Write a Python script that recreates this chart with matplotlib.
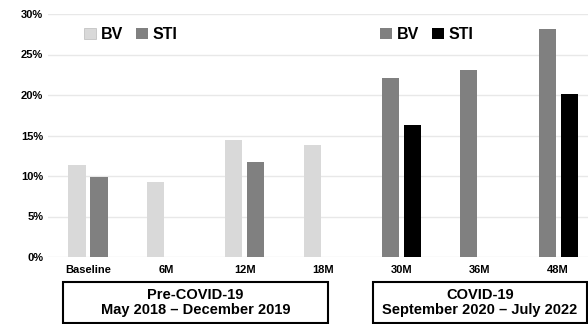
import matplotlib.pyplot as plt
from matplotlib.patches import Rectangle, Patch
import numpy as np

plt.rcParams['font.family'] = ['Liberation Sans', 'DejaVu Sans']
plt.rcParams['font.weight'] = 'bold'

timepoints = ["Baseline", "6M", "12M", "18M", "30M", "36M", "48M"]
bv = [11.3, 9.2, 14.4, 13.8, 22.1, 23.1, 28.1]
sti = [9.9, None, 11.7, None, 16.3, None, 20.1]
covid = [False, False, False, False, True, True, True]

pre_colors = {"BV": "#d9d9d9", "STI": "#808080"}
post_colors = {"BV": "#808080", "STI": "#000000"}

fig = plt.figure(figsize=(5.88, 3.24), dpi=100)
ax = fig.add_axes([48 / 588, 67 / 324, 540 / 588, 243 / 324])

x = np.arange(len(timepoints))
w = 0.22
for i in range(len(timepoints)):
    cols = post_colors if covid[i] else pre_colors
    ax.bar(x[i] - 0.14, bv[i], w, color=cols["BV"], zorder=3)
    if sti[i] is not None:
        ax.bar(x[i] + 0.14, sti[i], w, color=cols["STI"], zorder=3)

ax.set_xlim(-0.51, 6.38)
ax.set_ylim(0, 30)
ax.set_yticks([0, 5, 10, 15, 20, 25, 30])
ax.set_yticklabels([f"{v}%" for v in [0, 5, 10, 15, 20, 25, 30]])
ax.set_xticks(x)
ax.set_xticklabels(timepoints)
ax.tick_params(length=0, labelsize=8)
ax.tick_params(axis='x', pad=6)
ax.grid(axis='y', color='#e8e8e8', linewidth=1, zorder=0)
for s in ax.spines.values():
    s.set_visible(False)

leg_kw = dict(loc='upper left', ncol=2, frameon=False,
              prop={'weight': 'bold', 'size': 11.5}, handlelength=0.75, handleheight=0.75,
              handletextpad=0.3, columnspacing=0.8)
leg1 = ax.legend(handles=[Patch(facecolor=pre_colors["BV"], edgecolor="#bbbbbb", linewidth=0.5, label="BV"),
                          Patch(facecolor=pre_colors["STI"], label="STI")],
                 bbox_to_anchor=(0.04, 1.005), **leg_kw)
ax.add_artist(leg1)
ax.legend(handles=[Patch(facecolor=post_colors["BV"], label="BV"),
                   Patch(facecolor=post_colors["STI"], label="STI")],
          bbox_to_anchor=(0.588, 1.005), **leg_kw)

boxes = [(63, 328, "Pre-COVID-19\nMay 2018 \u2013 December 2019"),
         (373, 587, "COVID-19\nSeptember 2020 \u2013 July 2022")]
for x0, x1, txt in boxes:
    fig.patches.append(Rectangle((x0 / 588, 1 / 324), (x1 - x0) / 588, 41 / 324,
                                 transform=fig.transFigure, fill=False,
                                 edgecolor='black', linewidth=1.5))
    fig.text((x0 + x1) / 2 / 588, 21.5 / 324, txt, ha='center', va='center',
             fontsize=10.5, fontweight='bold', linespacing=1.15)

fig.savefig("out.png", dpi=100)
